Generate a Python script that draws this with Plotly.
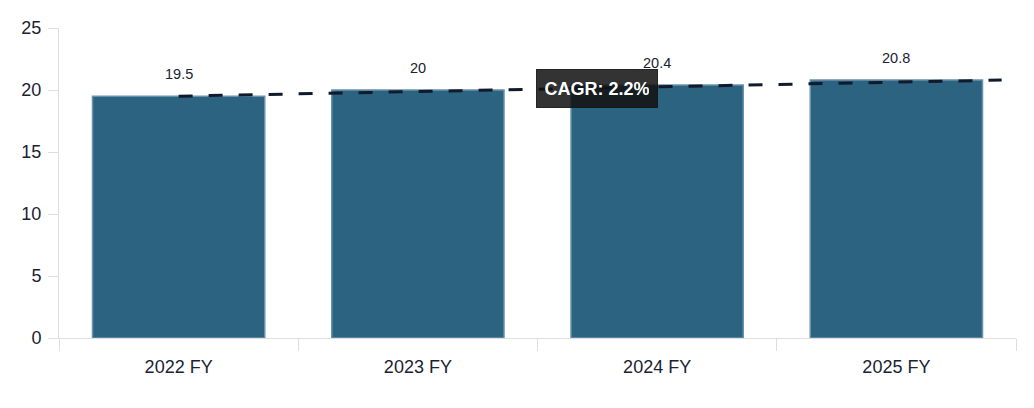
import plotly.graph_objs as go

# data
years = ['2022 FY', '2023 FY', '2024 FY', '2025 FY']
revenue = [19.5, 20.0, 20.4, 20.8]
trend_x = [0, 3.44]
trend_y = [19.5, 20.8]
cagr_text = 'CAGR: 2.2%'
cagr_pos = 1.75

font_family = 'Liberation Sans, Arial, sans-serif'
text_color = '#1b2233'
axis_grey = '#dedede'

bars = go.Bar(
    x=years,
    y=revenue,
    width=0.72,
    marker=dict(color='#2c6380', line=dict(color='#6893ab', width=1.5)),
    hoverinfo='skip',
)

trend = go.Scatter(
    x=trend_x,
    y=trend_y,
    xaxis='x2',
    mode='lines',
    line=dict(color='#101a2b', width=3, dash='14px,16px'),
    hoverinfo='skip',
)

# value labels sit above each bar
annotations = []
for yr, v in zip(years, revenue):
    annotations.append(dict(
        x=yr, y=v, xref='x', yref='y',
        text=f'{v:g}', showarrow=False,
        yshift=22, font=dict(size=14.5, color=text_color, family=font_family),
    ))

# CAGR badge on the trend line
slope = (trend_y[1] - trend_y[0]) / (trend_x[1] - trend_x[0])
annotations.append(dict(
    x=cagr_pos, y=trend_y[0] + slope * (cagr_pos - trend_x[0]),
    xref='x2', yref='y',
    text='<b>' + cagr_text + '</b>', showarrow=False,
    width=104, height=21,
    font=dict(size=18, color='white', family=font_family),
    bgcolor='rgba(18,18,18,0.86)', bordercolor='rgba(18,18,18,0.86)',
    borderwidth=1, borderpad=8,
))

# page has an 8px body margin, so the figure is a little smaller than the window
layout = go.Layout(
    width=1018, height=392,
    margin=dict(l=51, r=10, t=18, b=62),
    paper_bgcolor='white', plot_bgcolor='white',
    showlegend=False,
    font=dict(family=font_family, color=text_color, size=18),
    bargap=0.28,
    xaxis=dict(
        type='category',
        showline=True, linecolor=axis_grey, linewidth=1,
        ticks='outside', tickson='boundaries', ticklen=12, tickcolor=axis_grey,
        ticklabelstandoff=12,
        showgrid=False, tickfont=dict(size=18),
    ),
    xaxis2=dict(
        overlaying='x', range=[-0.5, 3.5], visible=False,
    ),
    yaxis=dict(
        range=[0, 25], dtick=5,
        showline=True, linecolor=axis_grey, linewidth=1,
        ticks='outside', ticklen=10, tickcolor=axis_grey,
        ticklabelstandoff=3,
        showgrid=False, zeroline=False, tickfont=dict(size=18),
    ),
    annotations=annotations,
)

fig = go.Figure(data=[bars, trend], layout=layout)
fig.write_html('out.html')
